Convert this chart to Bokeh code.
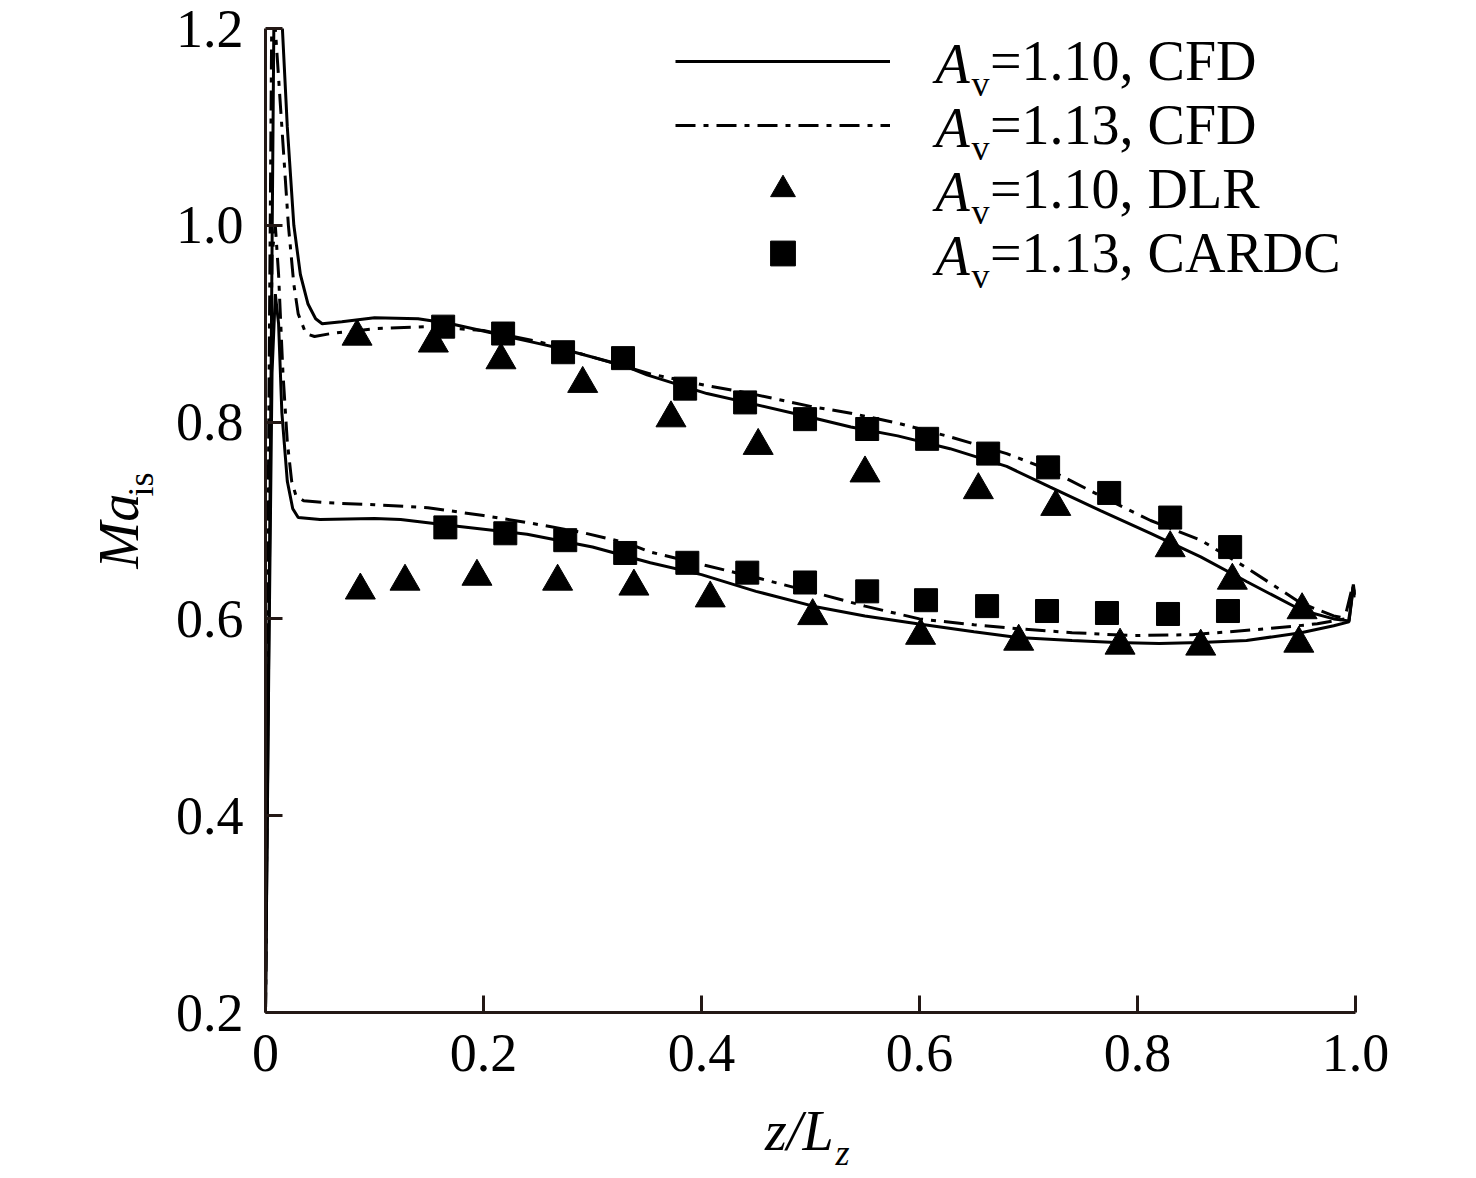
from bokeh.plotting import figure
from bokeh.models import Range1d, FixedTicker, PrintfTickFormatter, Legend, LegendItem, Label, Title
from bokeh.embed import file_html
from bokeh.resources import INLINE

# ---------------- data ----------------
# CFD, A_v = 1.10, upper (suction) branch
cfd110_up_z = [0.0, 0.004, 0.008, 0.012, 0.0155, 0.02, 0.026, 0.032, 0.039, 0.046, 0.052,
               0.07, 0.1, 0.14, 0.17, 0.21, 0.25, 0.27, 0.33, 0.35, 0.405, 0.445, 0.5,
               0.537, 0.58, 0.628, 0.68, 0.72, 0.766, 0.812, 0.858, 0.9, 0.95, 0.98,
               0.994, 0.998, 1.0]
cfd110_up_ma = [0.2, 0.7, 1.25, 1.26, 1.2, 1.1, 1.0, 0.95, 0.92, 0.905, 0.90,
                0.902, 0.906, 0.905, 0.90, 0.89, 0.88, 0.875, 0.857, 0.848, 0.829, 0.819, 0.805,
                0.795, 0.786, 0.773, 0.755, 0.734, 0.71, 0.687, 0.663, 0.638, 0.609, 0.60,
                0.598, 0.635, 0.625]
# CFD, A_v = 1.13, upper branch
cfd113_up_z = [0.0, 0.003, 0.006, 0.009, 0.015, 0.021, 0.026, 0.03, 0.037, 0.045, 0.06,
               0.1, 0.15, 0.2, 0.25, 0.3, 0.353, 0.405, 0.445, 0.5, 0.537, 0.58, 0.628,
               0.68, 0.72, 0.766, 0.812, 0.858, 0.9, 0.95, 0.98, 0.994, 0.998, 1.0]
cfd113_up_ma = [0.2, 0.8, 1.25, 1.2, 1.1, 1.0, 0.94, 0.91, 0.89, 0.887, 0.89,
                0.895, 0.897, 0.893, 0.882, 0.866, 0.849, 0.837, 0.829, 0.816, 0.809, 0.799, 0.785,
                0.768, 0.751, 0.725, 0.70, 0.68, 0.652, 0.616, 0.603, 0.60, 0.635, 0.625]
# CFD, A_v = 1.10, lower (pressure) branch
cfd110_lo_z = [0.0, 0.003, 0.006, 0.009, 0.012, 0.015, 0.02, 0.025, 0.03, 0.05, 0.1, 0.124,
               0.17, 0.24, 0.3, 0.353, 0.4, 0.45, 0.506, 0.55, 0.598, 0.65, 0.69, 0.74,
               0.78, 0.82, 0.858, 0.9, 0.95, 0.98, 0.994, 0.998, 1.0]
cfd110_lo_ma = [0.2, 0.55, 0.85, 0.93, 0.9, 0.81, 0.74, 0.712, 0.703, 0.701, 0.702, 0.701,
                0.695, 0.686, 0.673, 0.657, 0.645, 0.628, 0.612, 0.603, 0.595, 0.587, 0.581, 0.578,
                0.576, 0.575, 0.576, 0.578, 0.586, 0.593, 0.597, 0.632, 0.622]
# CFD, A_v = 1.13, lower branch
cfd113_lo_z = [0.0, 0.003, 0.006, 0.009, 0.012, 0.016, 0.02, 0.024, 0.028, 0.035, 0.057,
               0.1, 0.149, 0.2, 0.24, 0.29, 0.332, 0.353, 0.405, 0.45, 0.506, 0.55, 0.6,
               0.65, 0.69, 0.74, 0.796, 0.85, 0.919, 0.965, 0.99, 0.997, 1.0]
cfd113_lo_ma = [0.2, 0.65, 0.97, 1.0, 0.95, 0.85, 0.78, 0.74, 0.725, 0.72, 0.718,
                0.716, 0.713, 0.705, 0.698, 0.688, 0.677, 0.668, 0.654, 0.642, 0.626, 0.613, 0.60,
                0.594, 0.59, 0.586, 0.583, 0.584, 0.59, 0.595, 0.6, 0.632, 0.622]

# DLR experiment, A_v = 1.10 (triangles)
dlr_up_z = [0.084, 0.154, 0.216, 0.291, 0.372, 0.452, 0.55, 0.654, 0.725, 0.830, 0.887, 0.951]
dlr_up_ma = [0.887, 0.880, 0.863, 0.839, 0.804, 0.776, 0.748, 0.731, 0.714, 0.672, 0.639, 0.609]
dlr_lo_z = [0.087, 0.128, 0.194, 0.268, 0.338, 0.408, 0.502, 0.601, 0.691, 0.784, 0.858, 0.948]
dlr_lo_ma = [0.629, 0.638, 0.643, 0.638, 0.633, 0.621, 0.603, 0.583, 0.577, 0.573, 0.572, 0.575]

# CARDC experiment, A_v = 1.13 (squares)
cardc_up_z = [0.163, 0.218, 0.273, 0.328, 0.385, 0.440, 0.495, 0.552, 0.607, 0.663, 0.718,
              0.774, 0.830, 0.885]
cardc_up_ma = [0.897, 0.890, 0.871, 0.865, 0.834, 0.820, 0.803, 0.793, 0.783, 0.768, 0.754,
               0.728, 0.703, 0.673]
cardc_lo_z = [0.165, 0.22, 0.275, 0.330, 0.387, 0.442, 0.495, 0.552, 0.606, 0.662, 0.717,
              0.772, 0.828, 0.883]
cardc_lo_ma = [0.693, 0.687, 0.680, 0.667, 0.657, 0.647, 0.637, 0.628, 0.619, 0.613, 0.608,
               0.606, 0.605, 0.608]

x_ticks = [0, 0.2, 0.4, 0.6, 0.8, 1.0]
y_ticks = [0.2, 0.4, 0.6, 0.8, 1.0, 1.2]
legend_labels = ["=1.10, CFD", "=1.13, CFD", "=1.10, DLR", "=1.13, CARDC"]

# ---------------- figure ----------------
FONT = "Liberation Serif"
AXC = "#231815"

p = figure(frame_width=1090, frame_height=984,
           x_range=Range1d(0, 1), y_range=Range1d(0.2, 1.2),
           output_backend="svg", toolbar_location=None,
           min_border_left=265, min_border_right=106,
           min_border_top=28, min_border_bottom=162)
p.grid.visible = False
p.outline_line_color = None
p.background_fill_color = "white"
p.border_fill_color = "white"

p.xaxis.ticker = FixedTicker(ticks=x_ticks)
p.yaxis.ticker = FixedTicker(ticks=y_ticks)
p.xaxis.formatter = PrintfTickFormatter(format="%.1f")
p.yaxis.formatter = PrintfTickFormatter(format="%.1f")
p.xaxis.major_label_overrides = {0: "0"}

for ax in (p.xaxis[0], p.yaxis[0]):
    ax.axis_line_width = 3
    ax.axis_line_color = AXC
    ax.major_tick_line_width = 3
    ax.major_tick_line_color = AXC
    ax.major_tick_in = 17
    ax.major_tick_out = 0
    ax.minor_tick_line_color = None
    ax.major_label_text_font = FONT
    ax.major_label_text_font_size = "54px"
    ax.major_label_text_color = "black"
    ax.axis_label_text_font = FONT
    ax.axis_label_text_color = "black"
p.yaxis.major_label_standoff = 22
p.xaxis.major_label_standoff = 22

# x title: "z/L" (italic) + subscript "z"
p.xaxis.axis_label = "z/L\u2009\u2009"
p.xaxis.axis_label_text_font_size = "56px"
p.xaxis.axis_label_text_font_style = "italic"
p.xaxis.axis_label_standoff = 26
p.add_layout(Title(text="z", text_font=FONT, text_font_style="italic",
                   text_font_size="36px", text_color="black",
                   align="left", offset=570, vertical_align="top", standoff=-64), "below")

# y title: "Ma" (italic) + subscript "is"
p.yaxis.axis_label = "\u2003\u2003is"
p.yaxis.axis_label_text_font_size = "36px"
p.yaxis.axis_label_text_font_style = "normal"
p.yaxis.axis_label_standoff = 12
p.add_layout(Title(text="Ma", text_font=FONT, text_font_style="italic",
                   text_font_size="56px", text_color="black",
                   align="left", offset=444, vertical_align="bottom", standoff=-64), "left")

DASHDOT = "20 8 5 8"
r1 = p.line(cfd110_up_z, cfd110_up_ma, line_color="black", line_width=3)
p.line(cfd110_lo_z, cfd110_lo_ma, line_color="black", line_width=3)
r2 = p.line(cfd113_up_z, cfd113_up_ma, line_color="black", line_width=3, line_dash=DASHDOT)
p.line(cfd113_lo_z, cfd113_lo_ma, line_color="black", line_width=3, line_dash=DASHDOT)

r3 = p.scatter(dlr_up_z, dlr_up_ma, marker="triangle", size=30, color="black")
p.scatter(dlr_lo_z, dlr_lo_ma, marker="triangle", size=30, color="black")
r4 = p.scatter(cardc_up_z, cardc_up_ma, marker="square", size=23, color="black")
p.scatter(cardc_lo_z, cardc_lo_ma, marker="square", size=23, color="black")

legend = Legend(items=[LegendItem(label=legend_labels[i], renderers=[r])
                       for i, r in enumerate([r1, r2, r3, r4])],
                location=(410, 727), orientation="vertical",
                glyph_width=215, glyph_height=62, label_height=62, spacing=0,
                padding=0, margin=0, label_standoff=100,
                label_text_font=FONT, label_text_font_size="56px",
                label_text_color="black", label_text_baseline="middle",
                border_line_alpha=0, background_fill_alpha=0)
p.add_layout(legend, "center")


# "A_v" prefixes of the legend entries (inside the frame, data units)
def px2x(px):
    return (px - 265) / 1090.0


def py2y(py):
    return 1.2 - (py - 28) / 984.0


for row_y in [61, 125, 189, 253]:
    p.add_layout(Label(x=px2x(935), y=py2y(row_y + 2), text="A", text_font=FONT,
                       text_font_style="italic", text_font_size="56px",
                       text_baseline="middle", text_align="left", text_color="black"))
    p.add_layout(Label(x=px2x(971), y=py2y(row_y + 22), text="v", text_font=FONT,
                       text_font_size="36px", text_baseline="middle", text_align="left",
                       text_color="black"))

open("out.html", "w").write(file_html(p, INLINE))
